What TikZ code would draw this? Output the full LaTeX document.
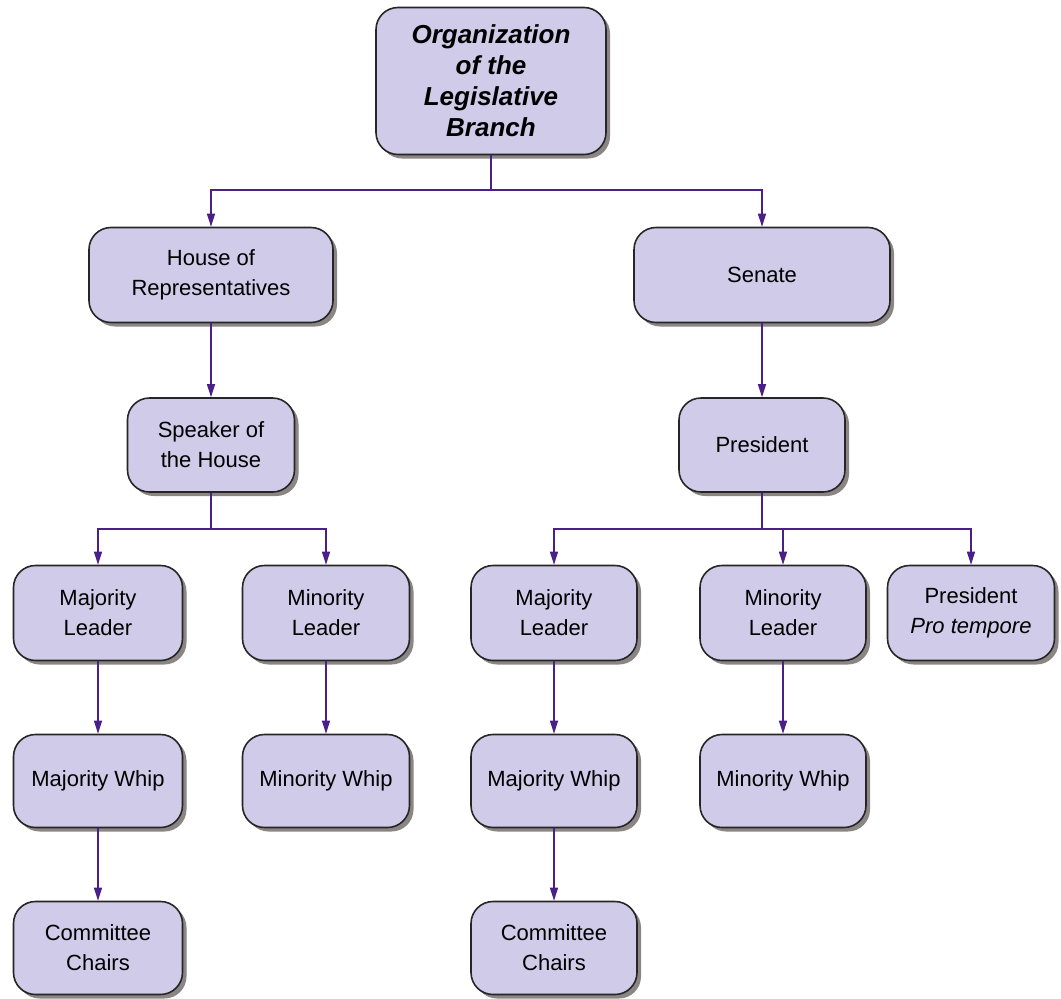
\documentclass[tikz,border=0pt]{standalone}
\usepackage{fontspec}
\setmainfont{Liberation Sans}
\usetikzlibrary{arrows.meta,shadows}
\definecolor{boxfill}{HTML}{CFCBE8}
\definecolor{linecol}{HTML}{4A2088}
\definecolor{shadowcol}{HTML}{7E7876}
\begin{document}
\begin{tikzpicture}[x=1pt,y=-1pt,
  orgbox/.style={draw=black!85, line width=1.6pt, fill=boxfill, rounded corners=22pt,
    inner sep=0pt, align=center, font=\fontsize{22}{30}\selectfont,
    drop shadow={shadow xshift=4pt, shadow yshift=-4pt, fill=shadowcol, opacity=0.9}},
  conn/.style={draw=linecol, line width=1.5pt},
  arr/.style={conn, -{Triangle[length=13pt,width=8pt]}}]
\useasboundingbox (0,0) rectangle (1061,999);
\node[orgbox, minimum width=230pt, minimum height=147pt, font=\fontsize{26}{31}\selectfont\bfseries\itshape] (top) at (491,81) {Organization\\of the\\Legislative\\Branch};
\node[orgbox, minimum width=244pt, minimum height=95pt] (house) at (211,275) {House of\\Representatives};
\node[orgbox, minimum width=256pt, minimum height=95pt] (senate) at (762,275) {Senate};
\node[orgbox, minimum width=167pt, minimum height=94pt] (speaker) at (211,445) {Speaker of\\the House};
\node[orgbox, minimum width=166pt, minimum height=94pt] (pres) at (762,445) {President};
\node[orgbox, minimum width=169pt, minimum height=95pt] (hmajl) at (98,613) {Majority\\Leader};
\node[orgbox, minimum width=167pt, minimum height=95pt] (hminl) at (326,613) {Minority\\Leader};
\node[orgbox, minimum width=166pt, minimum height=95pt] (smajl) at (554,613) {Majority\\Leader};
\node[orgbox, minimum width=166pt, minimum height=95pt] (sminl) at (783,613) {Minority\\Leader};
\node[orgbox, minimum width=167pt, minimum height=95pt] (ppt) at (971,613) {President\\\textit{Pro tempore}};
\node[orgbox, minimum width=169pt, minimum height=93pt] (hmajw) at (98,781) {Majority Whip};
\node[orgbox, minimum width=167pt, minimum height=93pt] (hminw) at (326,781) {Minority Whip};
\node[orgbox, minimum width=166pt, minimum height=93pt] (smajw) at (554,781) {Majority Whip};
\node[orgbox, minimum width=166pt, minimum height=93pt] (sminw) at (783,781) {Minority Whip};
\node[orgbox, minimum width=169pt, minimum height=93pt] (hcc) at (98,948) {Committee\\Chairs};
\node[orgbox, minimum width=166pt, minimum height=93pt] (scc) at (554,948) {Committee\\Chairs};
% connectors
\coordinate (j1) at (491,190);
\draw[conn] (top.south) -- (j1);
\draw[arr] (j1) -| (house.north);
\draw[arr] (j1) -| (senate.north);
\draw[arr] (house.south) -- (speaker.north);
\draw[arr] (senate.south) -- (pres.north);
\coordinate (j2) at (211,529);
\draw[conn] (speaker.south) -- (j2);
\draw[arr] (j2) -| (hmajl.north);
\draw[arr] (j2) -| (hminl.north);
\coordinate (j3) at (762,529);
\draw[conn] (pres.south) -- (j3);
\draw[arr] (j3) -| (smajl.north);
\draw[arr] (j3) -| (sminl.north);
\draw[arr] (j3) -| (ppt.north);
\draw[arr] (hmajl.south) -- (hmajw.north);
\draw[arr] (hminl.south) -- (hminw.north);
\draw[arr] (smajl.south) -- (smajw.north);
\draw[arr] (sminl.south) -- (sminw.north);
\draw[arr] (hmajw.south) -- (hcc.north);
\draw[arr] (smajw.south) -- (scc.north);
\end{tikzpicture}
\end{document}
